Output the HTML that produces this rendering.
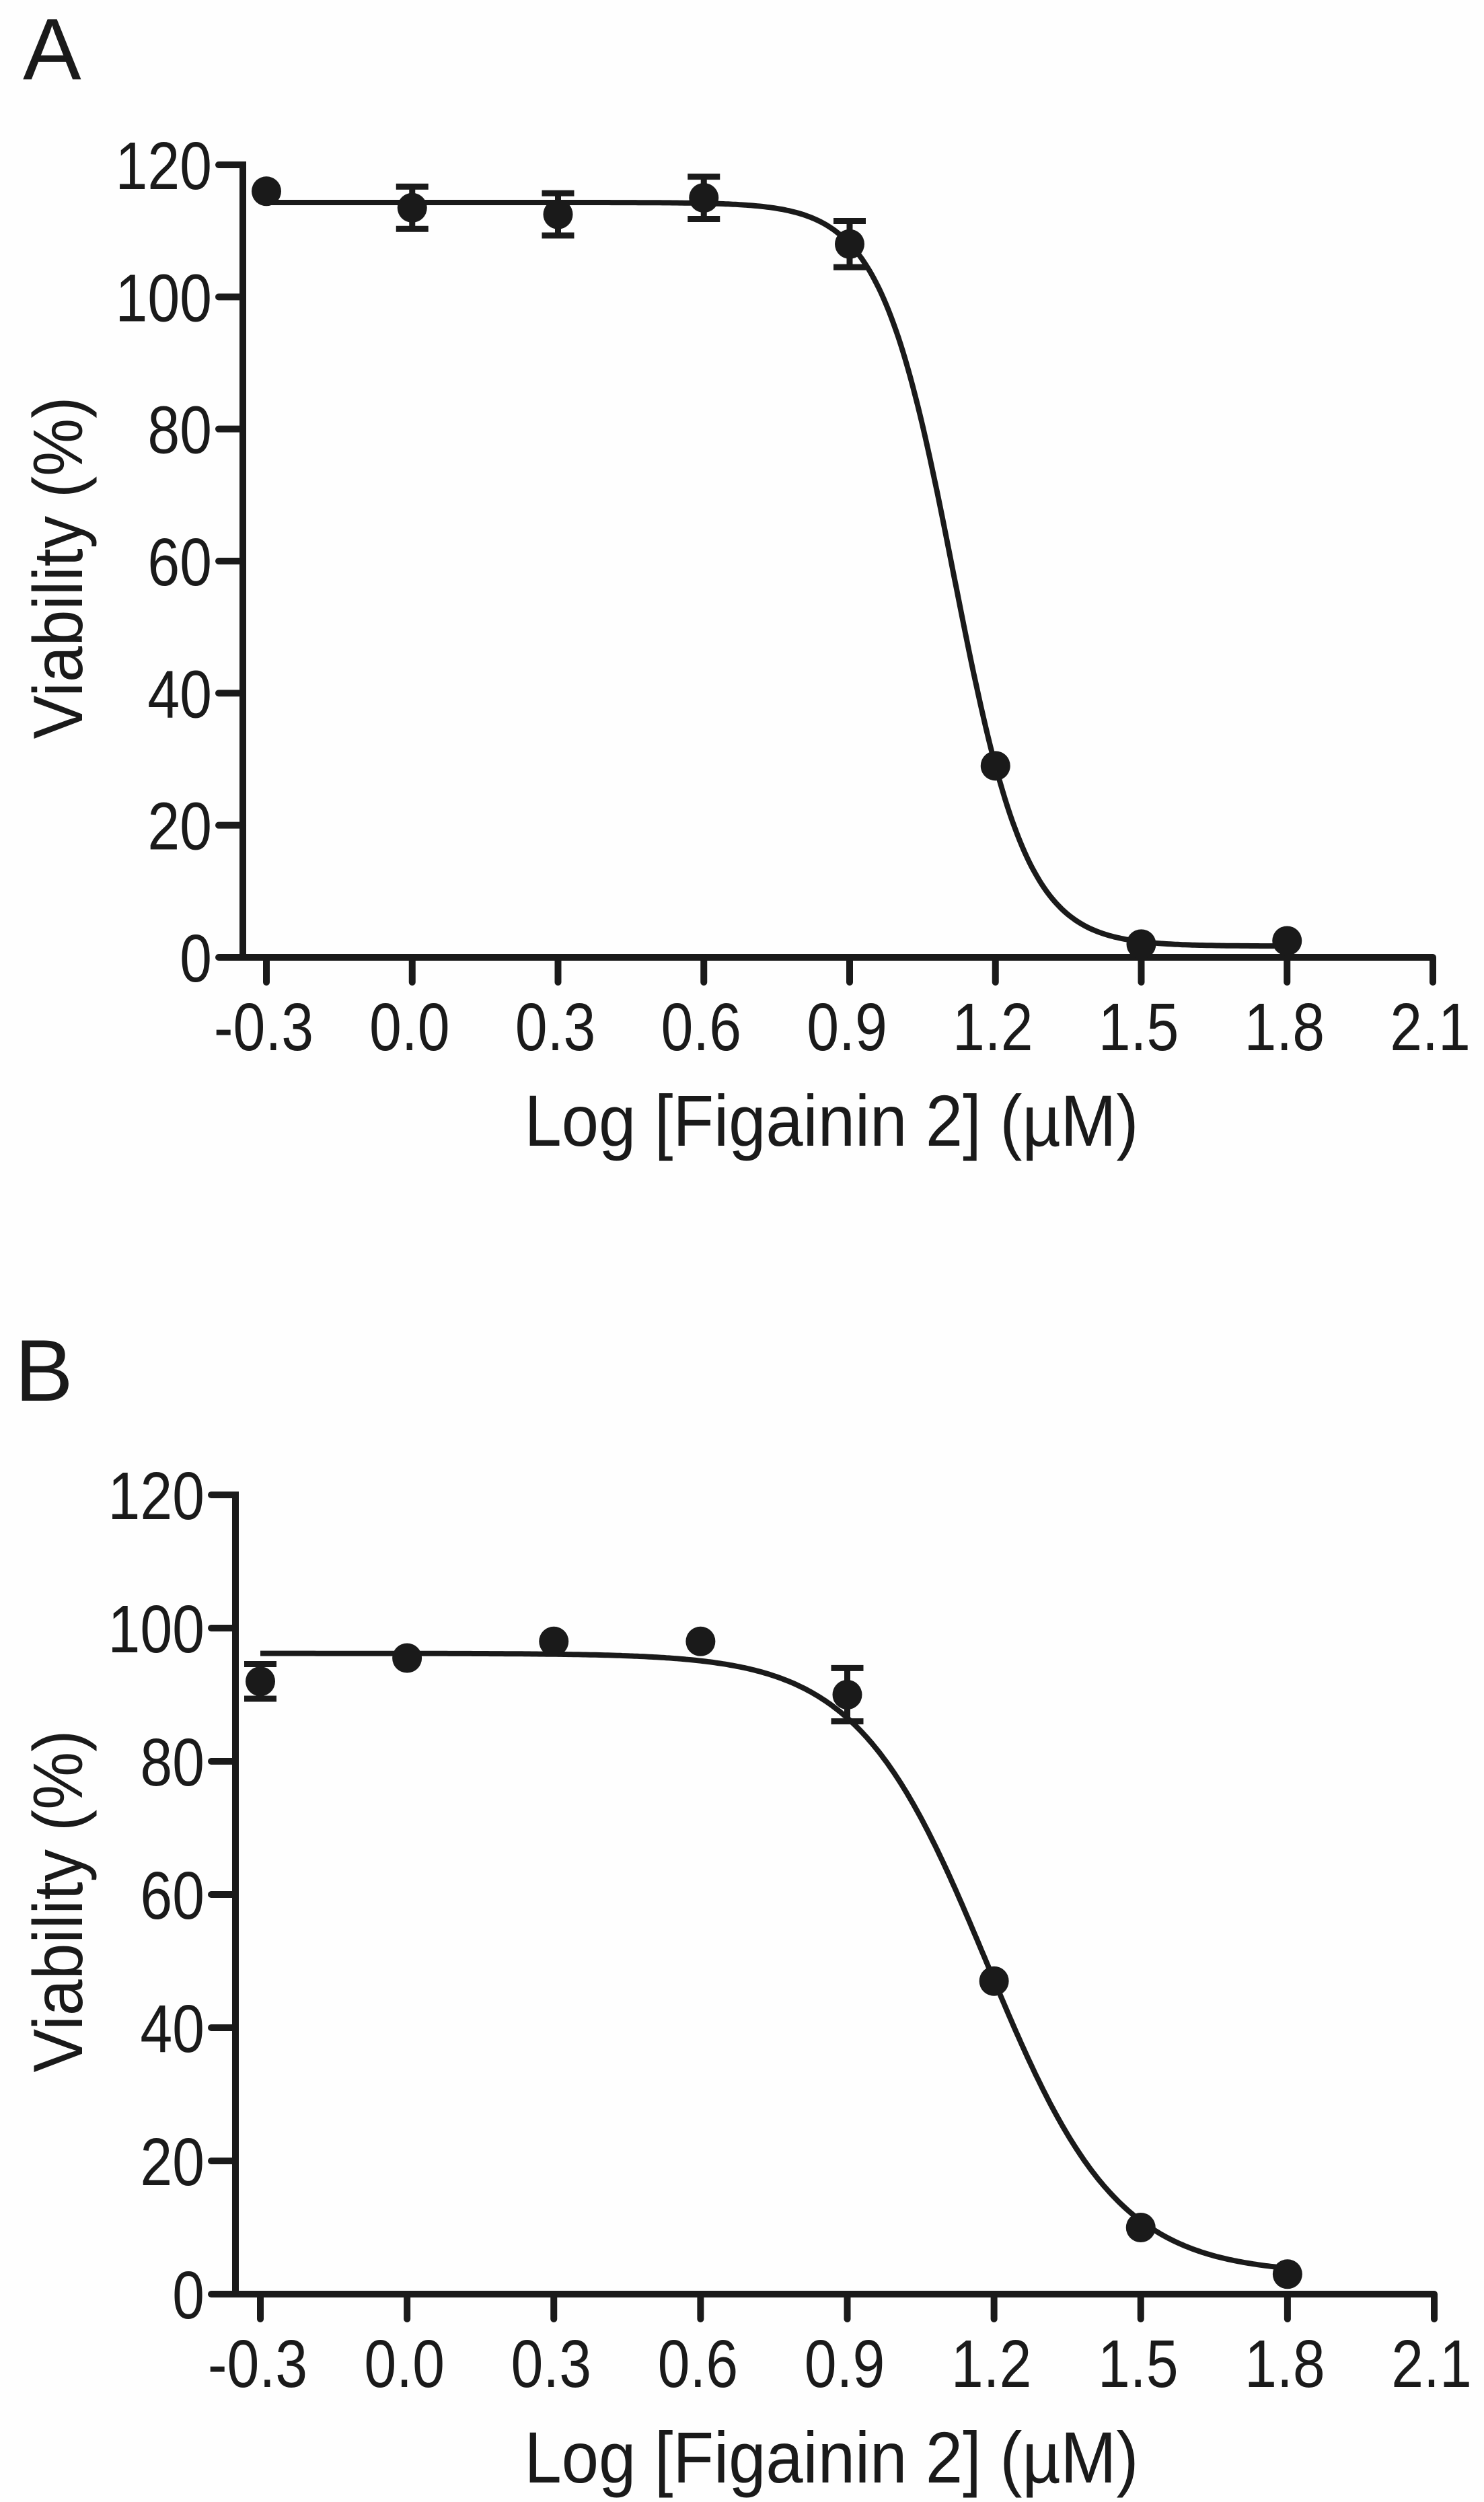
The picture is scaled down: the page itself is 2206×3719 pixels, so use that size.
<!DOCTYPE html>
<html><head><meta charset="utf-8">
<style>
html,body{margin:0;padding:0;background:#fefefe;}
svg{display:block;}
text{font-family:"Liberation Sans",Arial,sans-serif;fill:#1a1a1a;}
</style></head>
<body>
<svg id="fig" width="2206" height="3719" viewBox="0 0 2206 3719" xmlns="http://www.w3.org/2000/svg">
<rect width="2206" height="3719" fill="#fefefe"/>
<text x="34" y="118" font-size="130">A</text>
<text x="22" y="2082" font-size="130">B</text>
</svg>
<script>
const xTicks = [-0.3, 0.0, 0.3, 0.6, 0.9, 1.2, 1.5, 1.8, 2.1];
const xTickLabels = ["-0.3","0.0","0.3","0.6","0.9","1.2","1.5","1.8","2.1"];
const yTicks = [0, 20, 40, 60, 80, 100, 120];
const doseX = [-0.3, 0.0, 0.3, 0.6, 0.9, 1.2, 1.5, 1.8];
const viabA = [116, 113.5, 112.5, 115, 108, 29, 2, 2.5];
const errA = [0, 3.2, 3.2, 3.2, 3.5, 0, 0, 0];
const fitA = [114.3, 1.7, 1.114, 5.75]; // top, bottom, logIC50, hill
const viabB = [92, 95.5, 98, 98, 90, 47, 10, 3];
const errB = [2.6, 0, 0, 0, 4, 0, 0, 0];
const fitB = [96.2, 3.0, 1.186, 3.27];

const NS = "http://www.w3.org/2000/svg";
const svg = document.getElementById('fig');
function mk(tag, attrs, parent){
  const e = document.createElementNS(NS, tag);
  for (const k in attrs) e.setAttribute(k, attrs[k]);
  (parent||svg).appendChild(e);
  return e;
}
function txt(parent, x, y, size, sx, anchor, str, rot){
  const t = mk('text', {x: 0, y: 0, 'font-size': size, 'text-anchor': anchor,
    transform: `translate(${x} ${y})` + (rot ? ` rotate(${rot})` : '') + ` scale(${sx} 1)`}, parent);
  t.textContent = str;
  return t;
}
function panel(id, ax, vals, errs, fit){
  const g = mk('g', {});
  
  
  const sx = v => ax.x0 + (v - (-0.3)) * (ax.x1 - ax.x0) / 2.4;
  const sy = v => ax.y0 - v * (ax.y0 - ax.y120) / 120;
  const col = '#1a1a1a';
  const ya = mk('line', {x1: ax.yx, y1: ax.y120, x2: ax.yx, y2: ax.y0, stroke: col, 'stroke-width': 10, 'stroke-linecap':'square'}, g);
  
  
  const xa = mk('line', {x1: ax.yx - 36, y1: ax.y0, x2: sx(2.1), y2: ax.y0, stroke: col, 'stroke-width': 10}, g);
  
  
  yTicks.forEach(t => {
    const y = sy(t);
    const tk = mk('line', {x1: ax.yx - 36, y1: y, x2: ax.yx, y2: y, stroke: col, 'stroke-width': 10, 'stroke-linecap':'round'}, g);
    
    
    const lb = txt(g, ax.yx - 46, y + 36, 100, 0.86, 'end', String(t));
    
    
  });
  xTicks.forEach((t, i) => {
    const x = sx(t);
    const tk = mk('line', {x1: x, y1: ax.y0, x2: x, y2: ax.y0 + 37, stroke: col, 'stroke-width': 10, 'stroke-linecap':'round'}, g);
    
    
    const lb = txt(g, x - 4, ax.y0 + 138, 100, 0.86, 'middle', xTickLabels[i]);
    
    
  });
  const xt = txt(g, 1236, ax.y0 + 280, 108, 0.92, 'middle', 'Log [Figainin 2] (\u00B5M)');
  
  
  const ty = (ax.y0 + ax.y120) / 2 + 10;
  const yt = txt(g, 122, ty, 104, 0.93, 'middle', 'Viability (%)', -90);
  
  
  const [top, bot, c, h] = fit;
  let d = '';
  for (let i = 0; i <= 420; i++) {
    const xv = -0.3 + 2.1 * i / 420;
    const yv = bot + (top - bot) / (1 + Math.pow(10, (xv - c) * h));
    d += (i ? 'L' : 'M') + sx(xv).toFixed(1) + ' ' + sy(yv).toFixed(1);
  }
  const cv = mk('path', {d: d, fill: 'none', stroke: col, 'stroke-width': 8}, g);
  
  
  vals.forEach((v, i) => {
    const x = sx(doseX[i]), y = sy(v);
    if (errs[i] > 0) {
      const e1 = sy(v + errs[i]), e2 = sy(v - errs[i]);
      const eb = mk('path', {d: `M${x} ${e1}L${x} ${e2}M${x-24} ${e1}L${x+24} ${e1}M${x-24} ${e2}L${x+24} ${e2}`, stroke: col, 'stroke-width': 9, fill: 'none'}, g);
      
      
    }
    const pt = mk('circle', {cx: x, cy: y, r: 22, fill: col}, g);
    
    
  });
}
panel('a', {yx: 361, x0: 396, x1: 2130, y0: 1423, y120: 245}, viabA, errA, fitA);
panel('b', {yx: 350, x0: 387, x1: 2132, y0: 3410, y120: 2222}, viabB, errB, fitB);
</script>
</body></html>
